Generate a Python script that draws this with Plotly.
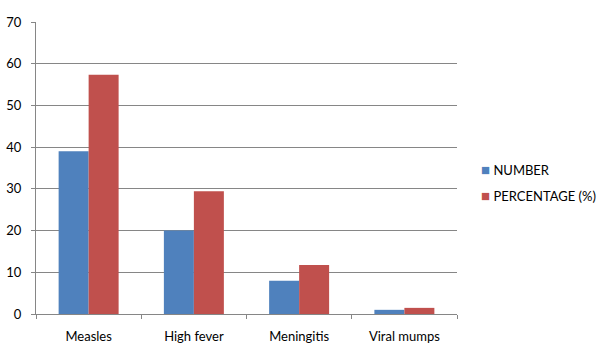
import plotly.graph_objects as go

categories = ["Measles", "High fever", "Meningitis", "Viral mumps"]
number_values = [39, 20, 8, 1]
percentage_values = [57.35, 29.41, 11.76, 1.47]
series_names = ["NUMBER", "PERCENTAGE (%)"]
series_colors = ["#4F81BD", "#C0504D"]
y_ticks = [0, 10, 20, 30, 40, 50, 60, 70]

fig = go.Figure()
for vals, name, col in zip([number_values, percentage_values], series_names, series_colors):
    fig.add_trace(go.Bar(x=categories, y=vals, name=name, showlegend=False,
                         marker=dict(color=col, line=dict(width=0))))
# legend entries: small coloured squares drawn as text glyphs
for i, (name, col) in enumerate(zip(series_names, series_colors)):
    fig.add_trace(go.Scatter(x=[None], y=[None], mode="markers",
                             marker=dict(size=0, opacity=0, color="rgba(0,0,0,0)"),
                             name=f'<span style="color:{col};font-size:15px">■</span> {name}',
                             legendgroup=f"g{i}"))

font = dict(family="Lato, Open Sans, sans-serif", size=13, color="#000000")
fig.update_layout(
    width=600, height=356,
    margin=dict(l=36, r=143, t=22, b=42, autoexpand=False),
    paper_bgcolor="white", plot_bgcolor="white",
    barmode="group", bargap=0.43, bargroupgap=0,
    font=font,
    legend=dict(x=0.962, xanchor="left", y=0.45, yanchor="middle",
                traceorder="grouped", tracegroupgap=6, font=font,
                itemwidth=30, bgcolor="rgba(0,0,0,0)"),
)
fig.update_xaxes(
    showline=True, linecolor="#868686", linewidth=1, automargin=False,
    ticks="outside", ticklen=4, tickcolor="#868686", tickson="boundaries",
    showgrid=False, ticklabelstandoff=10,
)
fig.update_yaxes(
    range=[0, 70], tickvals=y_ticks, showline=True, linecolor="#868686", linewidth=1,
    automargin=False,
    ticks="outside", ticklen=4, tickcolor="#868686",
    showgrid=True, gridcolor="#868686", gridwidth=1, zeroline=False,
    ticklabelstandoff=7,
)
fig.write_html("out.html", config={"displayModeBar": False},
               post_script="document.body.style.margin='0';")
